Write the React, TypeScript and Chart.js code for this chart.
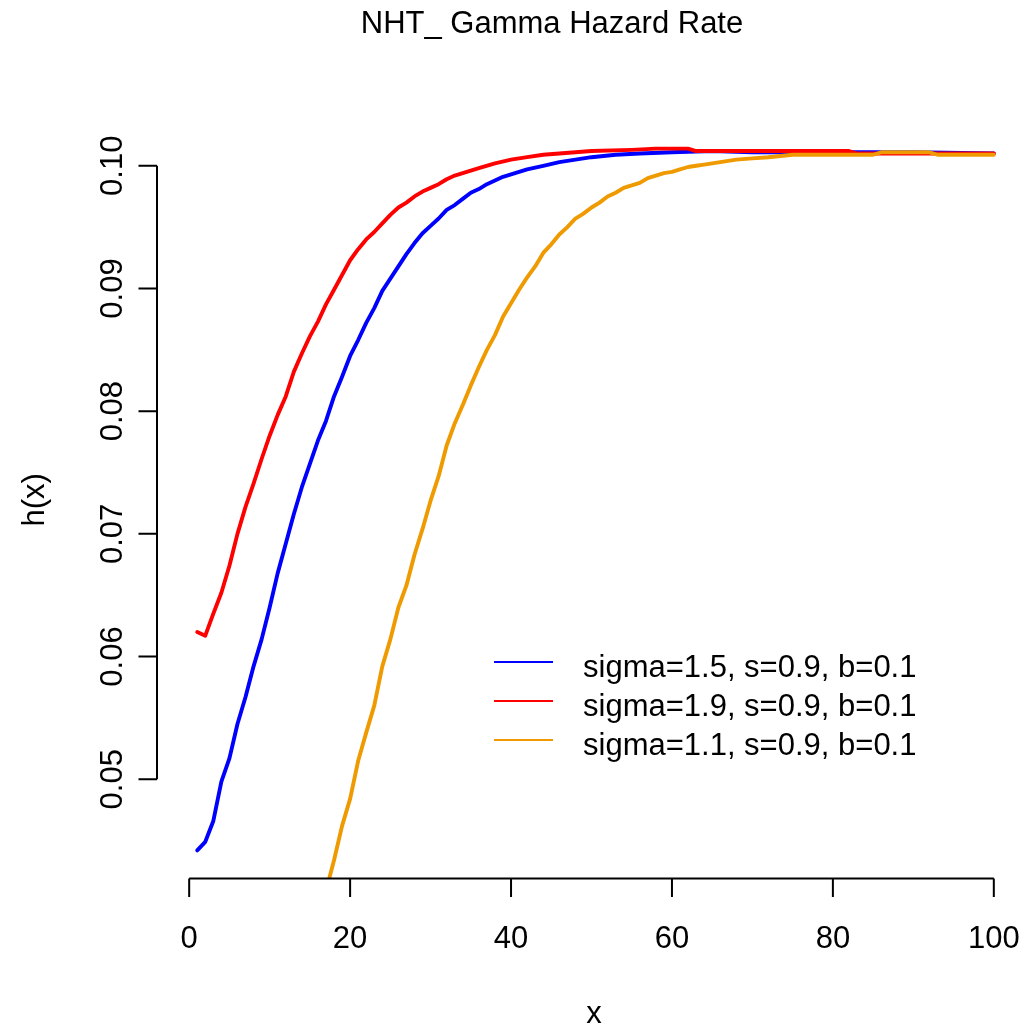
import React, { useEffect, useRef } from "react";
import { Chart, registerables } from "chart.js";
Chart.register(...registerables);

const chartTitle = "NHT_ Gamma Hazard Rate";
const xTitle = "x";
const yTitle = "h(x)";
const xTicks = [0, 20, 40, 60, 80, 100];
const xTickLabels = ["0", "20", "40", "60", "80", "100"];
const yTicks = [0.05, 0.06, 0.07, 0.08, 0.09, 0.1];
const yTickLabels = ["0.05", "0.06", "0.07", "0.08", "0.09", "0.10"];
const seriesLabels = [
  "sigma=1.5, s=0.9, b=0.1",
  "sigma=1.9, s=0.9, b=0.1",
  "sigma=1.1, s=0.9, b=0.1",
];
const seriesColors = ["#0000FF", "#FF0000", "#EE9A00"];

const blueX = [1, 2, 3, 4, 5, 6, 7, 8, 9, 10, 11, 12, 13, 14, 15, 16, 17, 18, 19, 20, 21, 22, 23, 24, 25, 26, 27, 28, 29, 30, 31, 32, 33, 34, 35, 36, 37, 38, 39, 40, 42, 44, 46, 48, 50, 53, 56, 60, 65, 70, 80, 90, 100];
const blueY = [0.0442, 0.0449, 0.0466, 0.0498, 0.0517, 0.0545, 0.0567, 0.0592, 0.0614, 0.064, 0.0668, 0.0692, 0.0716, 0.0738, 0.0757, 0.0776, 0.0792, 0.0812, 0.0828, 0.0845, 0.0858, 0.0872, 0.0884, 0.0898, 0.0908, 0.0918, 0.0928, 0.0937, 0.0945, 0.0951, 0.0957, 0.0964, 0.0968, 0.0973, 0.0978, 0.0981, 0.0985, 0.0988, 0.0991, 0.0993, 0.0997, 0.1, 0.1003, 0.1005, 0.1007, 0.1009, 0.101, 0.1011, 0.1012, 0.1011, 0.1011, 0.1011, 0.101];

const redX = [1, 2, 3, 4, 5, 6, 7, 8, 9, 10, 11, 12, 13, 14, 15, 16, 17, 18, 19, 20, 21, 22, 23, 24, 25, 26, 27, 28, 29, 30, 31, 32, 33, 34, 35, 36, 38, 40, 42, 44, 46, 48, 50, 55, 58, 62, 63, 70, 82, 83, 100];
const redY = [0.062, 0.0617, 0.0635, 0.0652, 0.0674, 0.07, 0.0722, 0.0741, 0.0761, 0.078, 0.0797, 0.0812, 0.0832, 0.0847, 0.0861, 0.0873, 0.0887, 0.0899, 0.0911, 0.0923, 0.0932, 0.094, 0.0946, 0.0953, 0.096, 0.0966, 0.097, 0.0975, 0.0979, 0.0982, 0.0985, 0.0989, 0.0992, 0.0994, 0.0996, 0.0998, 0.1002, 0.1005, 0.1007, 0.1009, 0.101, 0.1011, 0.1012, 0.1013, 0.1014, 0.1014, 0.1012, 0.1012, 0.1012, 0.101, 0.101];

const orangeX = [16, 17, 18, 19, 20, 21, 22, 23, 24, 25, 26, 27, 28, 29, 30, 31, 32, 33, 34, 35, 36, 37, 38, 39, 40, 41, 42, 43, 44, 45, 46, 47, 48, 49, 50, 51, 52, 53, 54, 55, 56, 57, 58, 59, 60, 61, 62, 63, 64, 66, 68, 70, 72, 75, 85, 86, 92, 93, 100];
const orangeY = [0.0384, 0.0409, 0.0434, 0.0462, 0.0484, 0.0515, 0.0538, 0.056, 0.0592, 0.0614, 0.064, 0.0658, 0.0683, 0.0704, 0.0727, 0.0747, 0.0772, 0.079, 0.0805, 0.0821, 0.0836, 0.085, 0.0862, 0.0877, 0.0888, 0.0899, 0.0909, 0.0918, 0.0929, 0.0936, 0.0944, 0.095, 0.0957, 0.0961, 0.0966, 0.097, 0.0975, 0.0978, 0.0982, 0.0984, 0.0986, 0.099, 0.0992, 0.0994, 0.0995, 0.0997, 0.0999, 0.1, 0.1001, 0.1003, 0.1005, 0.1006, 0.1007, 0.1009, 0.1009, 0.1011, 0.1011, 0.1009, 0.1009];

const FONT = '31px "Liberation Sans", Arial, Helvetica, sans-serif';

function toPoints(xs: number[], ys: number[]) {
  return xs.map((x, i) => ({ x, y: ys[i] }));
}

const rAxesPlugin = {
  id: "rAxes",
  afterDraw(chart: any) {
    const ctx = chart.ctx as CanvasRenderingContext2D;
    const xs = chart.scales.x;
    const ys = chart.scales.y;
    const area = chart.chartArea;
    ctx.save();
    ctx.strokeStyle = "#000";
    ctx.fillStyle = "#000";
    ctx.lineWidth = 2;
    ctx.lineCap = "butt";
    const tick = 18.5;
    // x axis
    const xb = area.bottom;
    const x0 = xs.getPixelForValue(xTicks[0]);
    const x1 = xs.getPixelForValue(xTicks[xTicks.length - 1]);
    ctx.beginPath();
    ctx.moveTo(x0, xb);
    ctx.lineTo(x1, xb);
    xTicks.forEach((t) => {
      const p = xs.getPixelForValue(t);
      ctx.moveTo(p, xb);
      ctx.lineTo(p, xb + tick);
    });
    ctx.stroke();
    // y axis
    const yl = area.left;
    const y0 = ys.getPixelForValue(yTicks[0]);
    const y1 = ys.getPixelForValue(yTicks[yTicks.length - 1]);
    ctx.beginPath();
    ctx.moveTo(yl, y0);
    ctx.lineTo(yl, y1);
    yTicks.forEach((t) => {
      const p = ys.getPixelForValue(t);
      ctx.moveTo(yl, p);
      ctx.lineTo(yl - tick, p);
    });
    ctx.stroke();

    ctx.font = FONT;
    ctx.textAlign = "center";
    ctx.textBaseline = "alphabetic";
    xTicks.forEach((t, i) => {
      ctx.fillText(xTickLabels[i], xs.getPixelForValue(t), 948);
    });
    yTicks.forEach((t, i) => {
      ctx.save();
      ctx.translate(122, ys.getPixelForValue(t));
      ctx.rotate(-Math.PI / 2);
      ctx.fillText(yTickLabels[i], 0, 0);
      ctx.restore();
    });
    // axis titles
    ctx.fillText(xTitle, 594, 1023);
    ctx.save();
    ctx.translate(44, (area.top + area.bottom) / 2);
    ctx.rotate(-Math.PI / 2);
    ctx.fillText(yTitle, 0, 0);
    ctx.restore();
    // title
    ctx.fillText(chartTitle, 552, 33);

    // legend
    const legLineY = [662, 701, 740];
    const legTextY = [677, 716, 755];
    ctx.textAlign = "left";
    seriesLabels.forEach((lab, i) => {
      ctx.strokeStyle = seriesColors[i];
      ctx.lineWidth = 2;
      ctx.beginPath();
      ctx.moveTo(494, legLineY[i]);
      ctx.lineTo(553, legLineY[i]);
      ctx.stroke();
      ctx.fillStyle = "#000";
      ctx.fillText(lab, 583, legTextY[i]);
    });
    ctx.restore();
  },
};

export default function App() {
  const ref = useRef<HTMLCanvasElement | null>(null);
  useEffect(() => {
    document.body.style.margin = "0";
    const canvas = ref.current;
    if (!canvas) return;
    const mk = (xs: number[], ys: number[], color: string) => ({
      data: toPoints(xs, ys),
      borderColor: color,
      backgroundColor: color,
      borderWidth: 3.9,
      pointRadius: 0,
      tension: 0,
      fill: false,
      clip: 0,
      borderCapStyle: "round" as const,
      borderJoinStyle: "round" as const,
    });
    const chart = new Chart(canvas, {
      type: "line",
      data: {
        datasets: [
          mk(orangeX, orangeY, seriesColors[2]),
          mk(redX, redY, seriesColors[1]),
          mk(blueX, blueY, seriesColors[0]),
        ],
      },
      options: {
        animation: false,
        responsive: false,
        devicePixelRatio: 1,
        layout: { padding: { left: 157, right: 0, top: 121, bottom: 150.5 } },
        plugins: { legend: { display: false }, title: { display: false }, tooltip: { enabled: false } },
        scales: {
          x: { type: "linear", display: false, min: -4, max: 104 },
          y: { type: "linear", display: false, min: 0.04191, max: 0.10365 },
        },
      },
      plugins: [rAxesPlugin],
    });
    return () => chart.destroy();
  }, []);
  return <canvas ref={ref} width={1026} height={1029} style={{ display: "block" }} />;
}
